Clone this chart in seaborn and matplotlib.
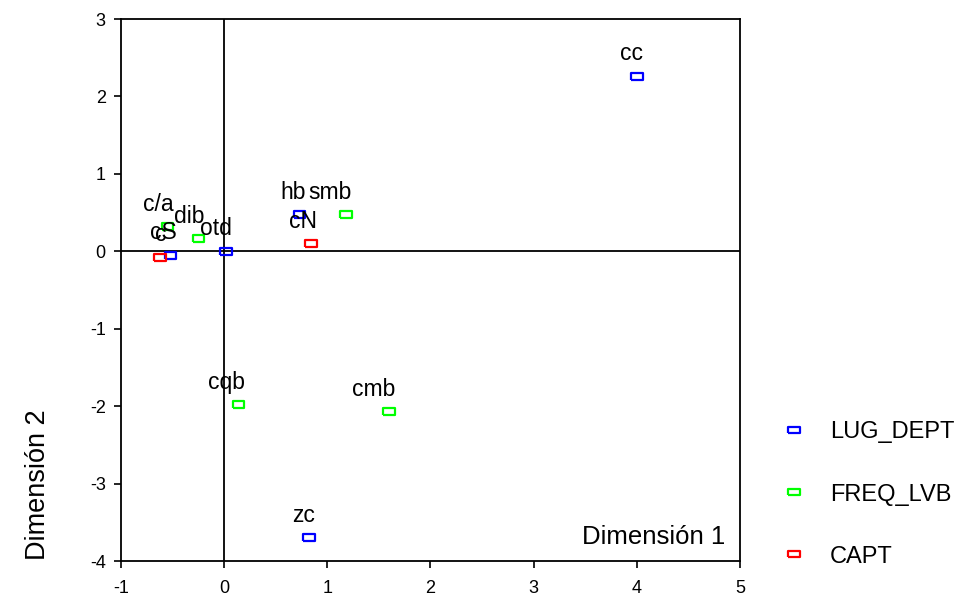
import matplotlib
matplotlib.use("Agg")
import matplotlib.pyplot as plt
import seaborn as sns
import pandas as pd
from matplotlib.lines import Line2D

labels = ["cc", "hb", "otd", "cS", "zc",
          "smb", "c/a", "dib", "cqb", "cmb",
          "cN", "c"]
dim1 = [4.00, 0.73, 0.02, -0.52, 0.82,
        1.18, -0.55, -0.25, 0.14, 1.60,
        0.84, -0.62]
dim2 = [2.26, 0.47, 0.00, -0.05, -3.70,
        0.47, 0.32, 0.16, -1.98, -2.07,
        0.10, -0.08]
groups = ["LUG_DEPT"] * 5 + ["FREQ_LVB"] * 5 + ["CAPT"] * 2
group_order = ["LUG_DEPT", "FREQ_LVB", "CAPT"]
palette = {"LUG_DEPT": "#0000ff", "FREQ_LVB": "#00ff00", "CAPT": "#ff0000"}

df = pd.DataFrame({"label": labels, "x": dim1, "y": dim2, "grp": groups})

sns.set_style("white")
plt.rcParams["font.family"] = ["Liberation Sans", "DejaVu Sans"]
plt.rcParams["axes.unicode_minus"] = False
plt.rcParams["text.color"] = "black"

fig = plt.figure(figsize=(9.58, 5.97), dpi=100)
ax = fig.add_axes([121/958, 1-561/597, (740-121)/958, (561-19)/597])

rect = [(-1.7, -1), (1.7, -1), (1.7, 1), (-1.7, 1), (-1.7, -1)]
ax.axhline(0, color="black", lw=1.3, zorder=1)
ax.axvline(0, color="black", lw=1.3, zorder=1)

sns.scatterplot(data=df, x="x", y="y", hue="grp", hue_order=group_order,
                palette=palette, marker=rect, s=70, linewidth=1.6,
                legend=False, ax=ax, zorder=3)
coll = ax.collections[-1]
fc = coll.get_facecolors()
coll.set_edgecolors(fc)
coll.set_facecolors("none")

for _, r in df.iterrows():
    ax.annotate(r["label"], (r["x"], r["y"]), xytext=(6, 16),
                textcoords="offset pixels", ha="right", va="baseline",
                fontsize=16.5, color="black", zorder=4)

ax.set_xlim(-1, 5)
ax.set_ylim(-4, 3)
ax.set_xticks(range(-1, 6))
ax.set_yticks(range(-4, 4))
ax.tick_params(axis="both", direction="out", length=5, width=1.2,
               labelsize=13, bottom=True, left=True, colors="black")
ax.tick_params(axis="x", pad=9)
ax.tick_params(axis="y", pad=6)
for s in ax.spines.values():
    s.set_color("black")
    s.set_linewidth(1.3)
ax.set_xlabel("")
ax.set_ylabel("")
ax.text(725/958, 1-537/597, "Dimensión 1", transform=fig.transFigure,
        ha="right", va="center", fontsize=18.5)
fig.text(38/958, 1-560/597, "Dimensión 2", rotation=90, ha="center",
         va="bottom", fontsize=19.5)

handles = [Line2D([], [], linestyle="none", marker=rect, markersize=8,
                  markerfacecolor="none", markeredgecolor=palette[g],
                  markeredgewidth=1.6) for g in group_order]
fig.legend(handles, group_order, loc="upper left",
           bbox_to_anchor=(773/958, 1-412/597), frameon=False,
           fontsize=17, labelspacing=1.7, handletextpad=1.0,
           handlelength=1.0, borderaxespad=0)

fig.savefig("out.png", dpi=100)
